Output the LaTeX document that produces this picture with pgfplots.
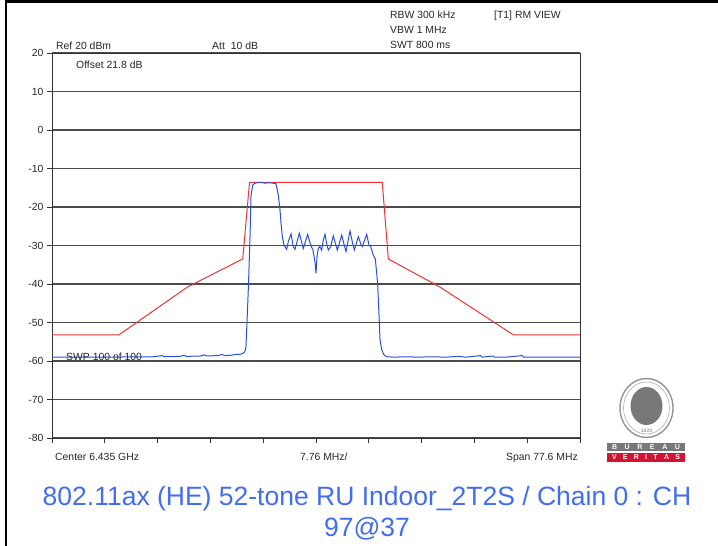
\documentclass[border=0pt]{standalone}
\usepackage{pgfplots}
\pgfplotsset{compat=1.18}
\usepackage{fontspec}
\setmainfont{Liberation Sans}

\definecolor{trace}{RGB}{40,80,220}
\definecolor{mask}{RGB}{240,50,50}
\definecolor{titleblue}{RGB}{65,110,240}
\definecolor{bvred}{RGB}{210,20,50}
\definecolor{bvgray}{RGB}{120,120,120}

\newcommand{\annfont}{\fontsize{10.4}{10.4}\selectfont}

\begin{document}
\begin{tikzpicture}[x=1pt,y=1pt]
\path[use as bounding box] (0,0) rectangle (718,546);

% frame of the page
\draw[black, line width=2.7pt] (5,544.7) -- (718,544.7);
\draw[black, line width=2.3pt] (6.2,0) -- (6.2,546);

\begin{axis}[
    at={(52pt,108pt)}, anchor=south west,
    scale only axis,
    width=528pt, height=385pt,
    xmin=-38.8, xmax=38.8,
    ymin=-80, ymax=20,
    xtick={-38.8,-31.04,-23.28,-15.52,-7.76,0,7.76,15.52,23.28,31.04,38.8},
    xticklabels={},
    ytick={-80,-70,-60,-50,-40,-30,-20,-10,0,10,20},
    yticklabels={-80,-70,-60,-50,-40,-30,-20,-10,0,10,20},
    xtick pos=bottom, ytick pos=left,
    tick align=outside,
    major tick length=5pt,
    tick style={black!80, line width=0.8pt},
    yticklabel style={font=\annfont, text=black!85},
    ymajorgrids,
    major grid style={black!70, line width=1.1pt},
    axis line style={black!80, line width=0.9pt},
]

% limit mask
\addplot[mask, line width=1pt] coordinates {
    (-38.8,-53.2) (-28.95,-53.2) (-18.9,-40.8) (-10.77,-33.5) (-9.77,-13.6)
    (9.74,-13.6) (10.63,-33.5) (18.22,-40.8) (29.0,-53.2) (38.8,-53.2)
};

% measured trace
\addplot[trace, line width=1pt] coordinates {
    (-38.8,-59.0) (-35,-59.0) (-32,-59.0) (-29.5,-59.0) (-27,-58.9) (-24,-58.9)
    (-22.6,-58.6) (-22.3,-58.9) (-20,-58.8) (-19.4,-58.5) (-19.1,-58.8) (-17,-58.7)
    (-16.4,-58.4) (-16.1,-58.7) (-14.5,-58.6) (-13.8,-58.3) (-13.4,-58.6) (-12.5,-58.5)
    (-11.8,-58.3) (-11.2,-58.3) (-10.7,-58.0) (-10.45,-57.5)
    (-10.3,-56.5) (-10.14,-50) (-9.92,-40) (-9.70,-28) (-9.55,-17) (-9.30,-14.3)
    (-8.97,-13.8) (-8.23,-13.6) (-7.50,-13.8) (-6.76,-13.7) (-6.03,-13.9) (-5.88,-13.9)
    (-5.54,-16.9) (-5.29,-20.8) (-5.14,-24.2) (-4.95,-27.7) (-4.70,-29.9) (-4.31,-31.0)
    (-4.07,-29.0) (-3.67,-27.0) (-3.34,-30.3) (-3.09,-31.0) (-2.45,-26.8) (-1.87,-30.8)
    (-1.22,-27.1) (-0.78,-29.9) (-0.44,-31.2) (-0.15,-34.2) (0.00,-37.2) (0.15,-32.9)
    (0.34,-30.7) (0.59,-30.3) (0.84,-31.2) (1.07,-28.6) (1.32,-27.1) (1.57,-29.5)
    (1.81,-31.2) (2.16,-30.3) (2.54,-27.5) (2.94,-30.0) (3.13,-31.2) (3.78,-27.3)
    (4.16,-30.0) (4.41,-31.6) (5.00,-26.2) (5.39,-29.5) (5.63,-31.2) (6.22,-27.7)
    (6.57,-29.5) (6.80,-30.3) (7.45,-27.1) (7.79,-29.9) (8.04,-30.3) (8.42,-32.5)
    (8.72,-33.5) (8.92,-37.2) (9.07,-40.3) (9.26,-48) (9.41,-54.5) (9.66,-57.1)
    (9.99,-58.4) (10.39,-58.9) (11.5,-59.0) (13,-58.9) (15,-59.0) (17,-58.9)
    (19,-59.0) (21,-58.8) (22,-59.0) (24.2,-58.6) (24.4,-59.0) (26,-58.7)
    (26.2,-59.0) (28,-59.0) (30.3,-58.6) (30.5,-59.0) (33,-59.0) (38.8,-59.0)
};
\end{axis}

% instrument annotations
\begin{scope}[every node/.style={inner sep=0pt, anchor=base west, font=\annfont, text=black!85}]
\node at (56,496) {Ref 20 dBm};
\node at (212,496) {Att\hspace{6pt}10 dB};
\node at (76,477) {Offset 21.8 dB};
\node at (390,527) {RBW 300 kHz};
\node at (390,512) {VBW 1 MHz};
\node at (390,497.5) {SWT 800 ms};
\node at (494,527) {[T1] RM VIEW};
\node at (66,185) {SWP 100 of 100};
\node at (55,85) {Center 6.435 GHz};
\node at (300,85) {7.76 MHz/};
\node[anchor=base east] at (578,85) {Span 77.6 MHz};
\end{scope}

% logo
\draw[bvgray!80, line width=1.4pt, fill=white] (646.5,138) ellipse [x radius=26.5, y radius=29.5];
\draw[bvgray!60, line width=0.6pt] (646.5,138) ellipse [x radius=23, y radius=26];
\fill[bvgray] (646.5,140) ellipse [x radius=16, y radius=19];
\node[inner sep=0pt, font=\fontsize{5}{5}\selectfont, text=bvgray] at (646.5,115) {1828};
\fill[bvgray] (607,95) rectangle (685,103);
\fill[bvred] (607,84) rectangle (685,93);
\node[inner sep=0pt, text=white, font=\fontsize{7}{7}\selectfont\bfseries] at (646,99) {\makebox[68pt][s]{B U R E A U}};
\node[inner sep=0pt, text=white, font=\fontsize{7}{7}\selectfont\bfseries] at (646,88.5) {\makebox[68pt][s]{V E R I T A S}};

% title
\node[inner sep=0pt, anchor=base, font=\fontsize{26.5}{26.5}\selectfont, text=titleblue] at (367,40)
    {802.11ax (HE) 52-tone RU Indoor\_2T2S / Chain 0 : CH};
\node[inner sep=0pt, anchor=base, font=\fontsize{26.5}{26.5}\selectfont, text=titleblue] at (367,9)
    {97@37};
\end{tikzpicture}
\end{document}
